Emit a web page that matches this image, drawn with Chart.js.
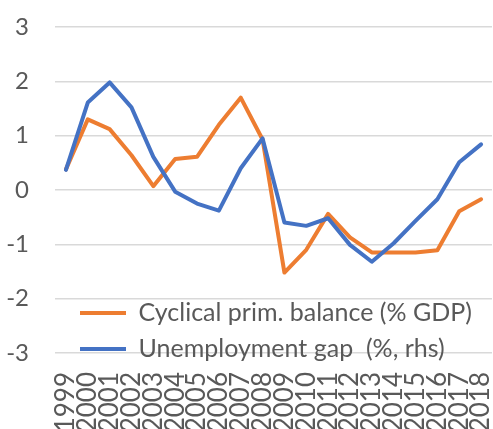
<!DOCTYPE html>
<html>
<head>
<meta charset="utf-8">
<script src="https://cdn.jsdelivr.net/npm/chart.js@4.4.0/dist/chart.umd.min.js"></script>
<style>
html,body{margin:0;padding:0;background:#ffffff;overflow:hidden;}
#wrap{width:493px;height:429px;position:relative;overflow:hidden;}
canvas{display:block;}
</style>
</head>
<body>
<div id="wrap"><canvas id="c" width="493" height="429"></canvas></div>
<script>
// ---- data ----
const years = ["1999","2000","2001","2002","2003","2004","2005","2006","2007","2008",
               "2009","2010","2011","2012","2013","2014","2015","2016","2017","2018"];
const cyclicalPrimBalance = [0.38, 1.30, 1.12, 0.64, 0.07, 0.57, 0.61, 1.20, 1.70, 0.93,
                             -1.52, -1.10, -0.44, -0.87, -1.15, -1.15, -1.15, -1.11, -0.39, -0.17];
const unemploymentGap = [0.37, 1.61, 1.98, 1.52, 0.61, -0.03, -0.25, -0.38, 0.40, 0.95,
                         -0.60, -0.66, -0.52, -1.01, -1.32, -0.98, -0.57, -0.17, 0.51, 0.84];
const seriesLabels = ["Cyclical prim. balance (% GDP)", "Unemployment gap  (%, rhs)"];
const yMin = -3, yMax = 3, yStep = 1;

const textColor = '#595959';
const gridColor = '#d9d9d9';
const FONT = 'Lato, "Open Sans", sans-serif';

// place the built-in legend inside the plot area, lower left
const legendPlacer = {
  id: 'legendPlacer',
  afterLayout(chart) {
    const lg = chart.legend;
    if (!lg) return;
    lg.left = 69; lg.right = 493;
    lg.top = 289.5; lg.bottom = 429;
    lg.width = lg.right - lg.left;
    lg.height = lg.bottom - lg.top;
  }
};

new Chart(document.getElementById('c'), {
  type: 'line',
  data: {
    labels: years,
    datasets: [
      {
        label: seriesLabels[1],
        data: unemploymentGap,
        borderColor: '#4472C4',
        backgroundColor: '#4472C4',
        borderWidth: 4,
        pointRadius: 0,
        pointHoverRadius: 0,
        tension: 0,
        fill: false,
        borderJoinStyle: 'round',
        borderCapStyle: 'round'
      },
      {
        label: seriesLabels[0],
        data: cyclicalPrimBalance,
        borderColor: '#ED7D31',
        backgroundColor: '#ED7D31',
        borderWidth: 4,
        pointRadius: 0,
        pointHoverRadius: 0,
        tension: 0,
        fill: false,
        borderJoinStyle: 'round',
        borderCapStyle: 'round'
      }
    ]
  },
  options: {
    responsive: false,
    animation: false,
    devicePixelRatio: 1,
    layout: { padding: { top: 27, right: 1, left: 0, bottom: 0 } },
    plugins: {
      tooltip: { enabled: false },
      legend: {
        display: true,
        position: 'chartArea',
        align: 'start',
        reverse: true,
        labels: {
          usePointStyle: true,
          pointStyle: 'line',
          pointStyleWidth: 46,
          boxWidth: 46,
          padding: 11,
          textAlign: 'left',
          color: textColor,
          font: { family: FONT, size: 25 }
        }
      }
    },
    scales: {
      x: {
        type: 'category',
        offset: true,
        grid: { display: false, drawTicks: false },
        border: { display: false },
        ticks: {
          autoSkip: false,
          maxRotation: 90,
          minRotation: 90,
          padding: 19,
          color: textColor,
          font: { family: FONT, size: 26 }
        },
        afterFit(s) { s.height = 76; s.paddingLeft = 0; s.paddingRight = 0; }
      },
      y: {
        min: yMin,
        max: yMax,
        grid: { color: gridColor, lineWidth: 1.5, drawTicks: false },
        border: { display: false },
        ticks: {
          stepSize: yStep,
          padding: 26,
          color: textColor,
          font: { family: FONT, size: 24 }
        },
        afterFit(s) { s.width = 55; s.paddingTop = 0; s.paddingBottom = 0; }
      }
    }
  },
  plugins: [legendPlacer]
});
</script>
</body>
</html>
